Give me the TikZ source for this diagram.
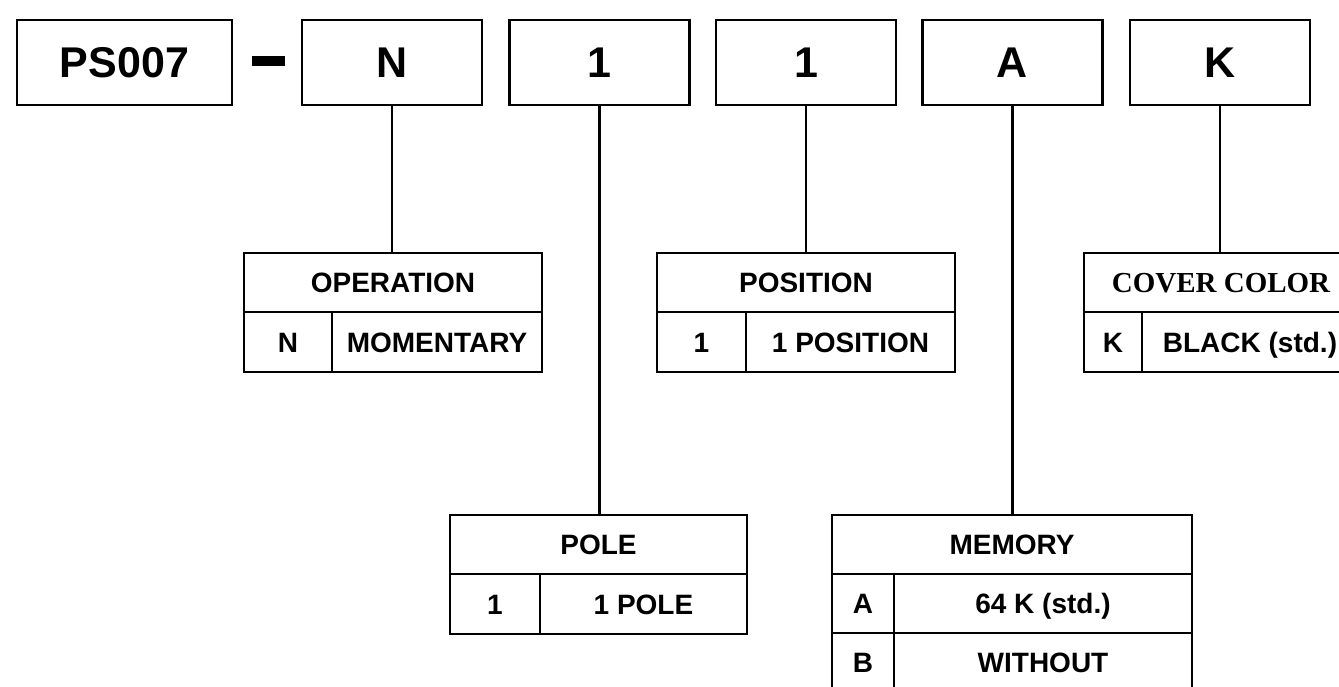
\documentclass[tikz,border=0pt]{standalone}
\usepackage{fontspec}
\setmainfont{Liberation Sans}
\newfontfamily\slabfont{Liberation Serif}
\usetikzlibrary{positioning}

\begin{document}
\begin{tikzpicture}[x=0.5pt,y=-0.5pt,
        box/.style={draw,line width=1.4pt,inner sep=0pt,outer sep=0pt,
            text height=10pt,text depth=0pt,
            font=\bfseries\fontsize{14}{16}\selectfont},
        partbox/.style={box,minimum width=90pt,minimum height=42.5pt,
            text height=15.4pt,
            font=\bfseries\fontsize{21.5}{24}\selectfont},
        headcell/.style={box,anchor=north west,minimum height=29.5pt},
        cell/.style={box,anchor=north west,minimum height=29.5pt},
        link/.style={line width=1.4pt}]
    \clip (0,0) rectangle (1339,686);
    \fill[white] (0,0) rectangle (1339,686);
    \node[partbox,minimum width=107.5pt] (ps) at (124.5,62.5) {PS007};
    \node[fill,inner sep=0pt,minimum width=16.5pt,minimum height=5pt] (dash) at (268,61) {};
    \foreach \name/\x/\txt in {n/392/N, pole/599.5/1, pos/806/1, mem/1012.5/A, col/1220/K}
        \node[partbox] (\name) at (\x,62.5) {\txt};
    \node[headcell,minimum width=149pt] (opH) at (244,253) {OPERATION};
    \node[cell,minimum width=44pt,minimum height=30pt] (opC) at (opH.south west) {N};
    \node[cell,minimum width=105pt,minimum height=30pt] (opD) at (opC.north east) {MOMENTARY};
    \node[headcell,minimum width=149pt] (posH) at (657,253) {POSITION};
    \node[cell,minimum width=44.5pt,minimum height=30pt] (posC) at (posH.south west) {1};
    \node[cell,minimum width=104.5pt,minimum height=30pt] (posD) at (posC.north east) {1 POSITION};
    \node[headcell,minimum width=137pt,text height=9.6pt,font=\slabfont\bfseries\fontsize{14.5}{16}\selectfont] (colH) at (1084,253) {COVER COLOR};
    \node[cell,minimum width=29pt,minimum height=30pt] (colC) at (colH.south west) {K};
    \node[cell,minimum width=108pt,minimum height=30pt] (colD) at (colC.north east) {BLACK (std.)};
    \node[headcell,minimum width=148.5pt] (poleH) at (450,515) {POLE};
    \node[cell,minimum width=45pt,minimum height=30pt] (poleC) at (poleH.south west) {1};
    \node[cell,minimum width=103.5pt,minimum height=30pt] (poleD) at (poleC.north east) {1 POLE};
    \node[headcell,minimum width=180pt] (memH) at (832,515) {MEMORY};
    \node[cell,minimum width=31pt] (memCa) at (memH.south west) {A};
    \node[cell,minimum width=149pt] (memDa) at (memCa.north east) {64 K (std.)};
    \node[cell,minimum width=31pt] (memCb) at (memCa.south west) {B};
    \node[cell,minimum width=149pt] (memDb) at (memCb.north east) {WITHOUT};
    \draw[link] (n.south) -- (n.south |- opH.north);
    \draw[link] (pole.south) -- (pole.south |- poleH.north);
    \draw[link] (pos.south) -- (pos.south |- posH.north);
    \draw[link] (mem.south) -- (mem.south |- memH.north);
    \draw[link] (col.south) -- (col.south |- colH.north);
\end{tikzpicture}
\end{document}
